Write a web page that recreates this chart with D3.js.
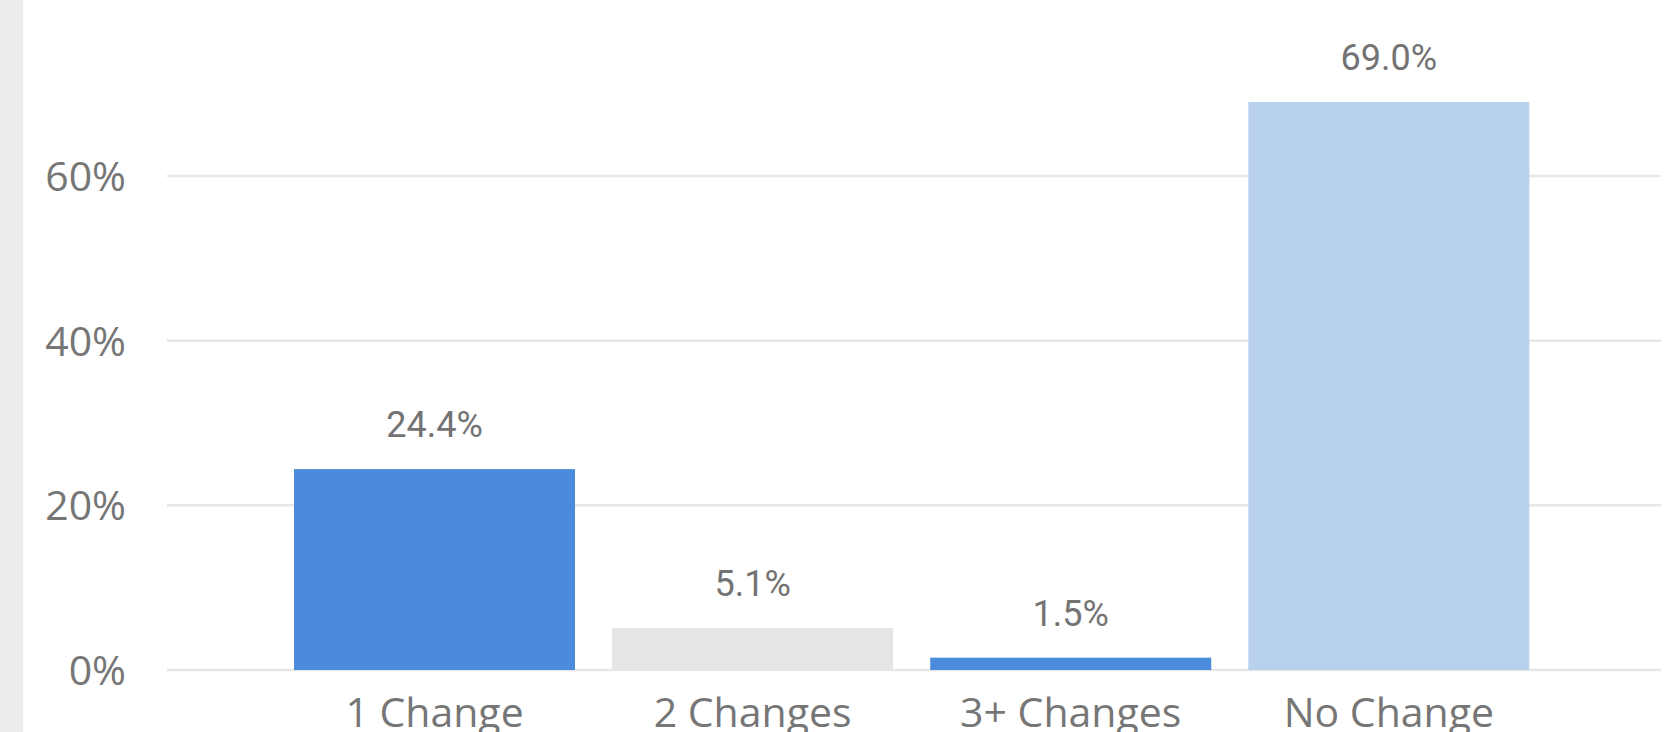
<!DOCTYPE html>
<html>
<head>
<meta charset="utf-8">
<script src="https://cdn.jsdelivr.net/npm/d3@7"></script>
<style>
  html, body { margin: 0; padding: 0; background: #ffffff; overflow: hidden; }
  svg { display: block; }
</style>
</head>
<body>
<svg id="chart" width="1666" height="732"></svg>
<script>
// ---- data ----
const categories = ["1 Change", "2 Changes", "3+ Changes", "No Change"];
const values = [24.4, 5.1, 1.5, 69.0];
const valueLabels = ["24.4%", "5.1%", "1.5%", "69.0%"];
const barColors = ["#4a8bdb", "#e5e5e5", "#4a8bdb", "#b7d1ee"];
const yTicks = [0, 20, 40, 60];
const yTickLabels = ["0%", "20%", "40%", "60%"];

// ---- layout ----
const W = 1666, H = 732;
const svg = d3.select("#chart");

// left gray strip
svg.append("rect").attr("x", 0).attr("y", 0).attr("width", 23).attr("height", H).attr("fill", "#ececec");

const x = d3.scaleBand()
  .domain(categories)
  .range([167, 1661])
  .paddingInner(0.1166)
  .paddingOuter(0.4066)
  .align(0.491);

const y = d3.scaleLinear().domain([0, 80]).range([670, 670 - 80 * 8.233]);

// gridlines
svg.append("g").selectAll("line")
  .data(yTicks)
  .join("line")
  .attr("x1", 167).attr("x2", 1661)
  .attr("y1", d => y(d)).attr("y2", d => y(d))
  .attr("stroke", "#e7e7e7")
  .attr("stroke-width", 2.5);

// y axis labels
svg.append("g").selectAll("text")
  .data(yTicks)
  .join("text")
  .attr("x", 126)
  .attr("y", d => y(d) + 15)
  .attr("text-anchor", "end")
  .attr("font-family", "'Open Sans', 'Noto Sans', sans-serif")
  .attr("font-size", 41)
  .attr("fill", "#767676")
  .text((d, i) => yTickLabels[i]);

// bars
svg.append("g").selectAll("rect")
  .data(categories)
  .join("rect")
  .attr("x", d => x(d))
  .attr("width", x.bandwidth())
  .attr("y", (d, i) => y(values[i]))
  .attr("height", (d, i) => y(0) - y(values[i]))
  .attr("fill", (d, i) => barColors[i]);

// value labels
svg.append("g").selectAll("text")
  .data(categories)
  .join("text")
  .attr("x", d => x(d) + x.bandwidth() / 2)
  .attr("y", (d, i) => y(values[i]) - 32)
  .attr("text-anchor", "middle")
  .attr("font-family", "Roboto, 'Noto Sans', sans-serif")
  .attr("font-weight", 400)
  .attr("font-size", 36)
  .attr("fill", "#737373")
  .text((d, i) => valueLabels[i]);

// category labels (cut at the bottom edge as in the reference)
svg.append("g").selectAll("text")
  .data(categories)
  .join("text")
  .attr("x", d => x(d) + x.bandwidth() / 2)
  .attr("y", 727)
  .attr("text-anchor", "middle")
  .attr("font-family", "'Open Sans', 'Noto Sans', sans-serif")
  .attr("font-size", 41)
  .attr("fill", "#767676")
  .text(d => d);
</script>
</body>
</html>
